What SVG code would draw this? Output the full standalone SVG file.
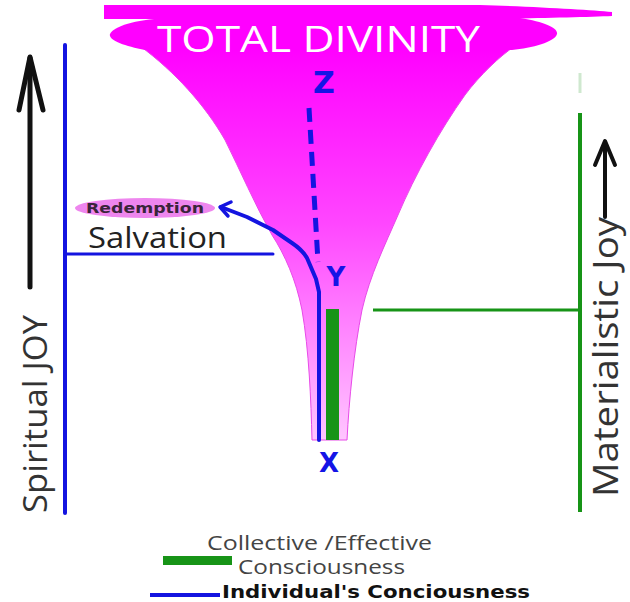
<svg xmlns="http://www.w3.org/2000/svg" width="630" height="602" viewBox="0 0 630 602">
<style>
.sans{font-family:"Open Sans","DejaVu Sans",sans-serif}
.lbl{font-family:"DejaVu Sans","Liberation Sans",sans-serif;font-weight:bold;fill:#1414e6;text-anchor:middle}
.blue{stroke:#1414e0;fill:none;stroke-linecap:round;stroke-linejoin:round}
.green{stroke:#179417;fill:none}
.blk{stroke:#111;fill:none;stroke-linecap:round;stroke-linejoin:round}
</style>
<defs>
<linearGradient id="fg" x1="0" y1="46" x2="0" y2="440" gradientUnits="userSpaceOnUse">
<stop offset="0" stop-color="#ff00ff"/>
<stop offset="0.45" stop-color="#ff46ff"/>
<stop offset="1" stop-color="#ffc6ff"/>
</linearGradient>
</defs>
<rect width="630" height="602" fill="#fff"/>

<g id="divinity">
<path d="M140 46 L515 46 C500 56 480 75 465 95 C440 130 415 175 398 215 C385 245 370 275 362 310 C354 350 349 400 347 440 L312 440 C311 400 309 350 302 310 C296 280 285 255 272 235 C255 205 240 170 225 140 C205 105 175 72 140 46 Z" fill="url(#fg)" stroke="#e84ae8" stroke-width="1"/>
<path d="M104 5 L480 5 C540 7 590 10 612 12 L612 16 C590 17 540 18 500 19 L104 19 Z" fill="#ff00ff"/>
<path d="M110 34 C114 26 135 20 165 18 L520 18 C545 22 558 28 557 34 C555 42 532 48 512 50 L145 50 C124 46 108 40 110 34 Z" fill="#ff00ff"/>
<text class="sans" x="157" y="52" font-size="37" fill="#fff" textLength="323" lengthAdjust="spacingAndGlyphs">TOTAL  DIVINITY</text>
</g>

<g id="connectors">
<line class="blue" x1="65" y1="45" x2="65" y2="513" stroke-width="4" stroke-linecap="butt"/>
<line class="blue" x1="65" y1="254" x2="273" y2="254" stroke-width="3" stroke-linecap="butt"/>
<line class="green" x1="580" y1="113" x2="580" y2="512" stroke-width="4"/>
<line x1="580" y1="73" x2="580" y2="93" stroke="#cfe8cf" stroke-width="3"/>
<line class="green" x1="373" y1="310" x2="580" y2="310" stroke-width="3"/>
<line x1="309" y1="108" x2="318" y2="262" stroke="#1414e0" stroke-width="5" stroke-dasharray="14 8"/>
<path class="blue" d="M319 440 L319 292 L316 279 L307 258 C303 251 298 247 292 243 L273 230 L247 217 L221 207" stroke-width="4"/>
<path class="blue" d="M231 202 L220 207 L228 216" stroke-width="3.5"/>
<rect x="326" y="309" width="13" height="131" fill="#179417"/>
</g>

<g id="labels-xyz">
<text class="lbl" x="324" y="93" font-size="30">Z</text>
<text class="lbl" x="336" y="286" font-size="26">Y</text>
<text class="lbl" x="329" y="472" font-size="26">X</text>
</g>

<g id="redemption">
<ellipse cx="145" cy="208" rx="70" ry="10" fill="#ee86ee"/>
<text x="145" y="213" font-family="DejaVu Sans,sans-serif" font-weight="bold" font-size="14" fill="#3a243a" text-anchor="middle" textLength="118" lengthAdjust="spacingAndGlyphs">Redemption</text>
</g>

<g id="salvation">
<text class="sans" x="88" y="248" font-size="30" fill="#222" textLength="139" lengthAdjust="spacingAndGlyphs">Salvation</text>
</g>

<g id="spiritual-joy">
<line class="blk" x1="30" y1="287" x2="30" y2="58" stroke-width="5"/>
<path class="blk" d="M19 110 L30 57 L43 110" stroke-width="5"/>
<text class="sans" x="47" y="513" font-size="33" fill="#333" transform="rotate(-90 47 513)" textLength="198" lengthAdjust="spacingAndGlyphs">Spiritual JOY</text>
</g>

<g id="materialistic-joy">
<line class="blk" x1="605" y1="217" x2="605" y2="143" stroke-width="4"/>
<path class="blk" d="M595 165 L605 141 L615 165" stroke-width="4"/>
<text class="sans" x="618" y="497" font-size="34" fill="#333" transform="rotate(-90 618 497)" textLength="280" lengthAdjust="spacingAndGlyphs">Materialistic Joy</text>
</g>

<g id="legend">
<rect x="163" y="556" width="69" height="9" fill="#179417"/>
<text class="sans" x="207" y="550" font-size="20" fill="#444" textLength="225" lengthAdjust="spacingAndGlyphs">Collective /Effective</text>
<text class="sans" x="238" y="574" font-size="20" fill="#444" textLength="167" lengthAdjust="spacingAndGlyphs">Consciousness</text>
<line x1="150" y1="595" x2="220" y2="595" stroke="#1414e0" stroke-width="4"/>
<text x="222" y="598" font-family="DejaVu Sans,sans-serif" font-weight="bold" font-size="17" fill="#111" textLength="308" lengthAdjust="spacingAndGlyphs">Individual's Conciousness</text>
</g>
</svg>
